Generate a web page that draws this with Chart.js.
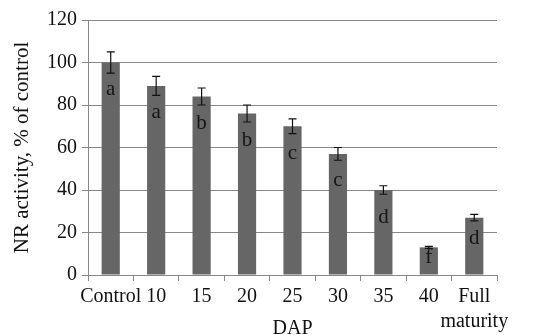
<!DOCTYPE html>
<html>
<head>
<meta charset="utf-8">
<script src="https://cdn.jsdelivr.net/npm/chart.js@4"></script>
<style>
  html, body { margin: 0; padding: 0; background: #fff; }
  #wrap { width: 537px; height: 335px; }
</style>
</head>
<body>
<div id="wrap"><canvas id="chart" width="537" height="335"></canvas></div>
<script>
/* ── Data ───────────────────────────────────────────── */
const categories = ['Control', '10', '15', '20', '25', '30', '35', '40', ['Full', 'maturity']];
const activity   = [100, 89, 84, 76, 70, 57, 40, 13, 27];
const errors     = [5, 4.5, 4, 4, 3.5, 3, 2, 0.5, 1.5];
const groups     = ['a', 'a', 'b', 'b', 'c', 'c', 'd', 'f', 'd'];
const yTicks     = [0, 20, 40, 60, 80, 100, 120];

const FONT = 'Liberation Serif';

/* ── Error bars + group letters ─────────────────────── */
const barExtras = {
  id: 'barExtras',
  afterDatasetsDraw(chart) {
    const ctx = chart.ctx;
    const y = chart.scales.y;
    const meta = chart.getDatasetMeta(0);
    ctx.save();
    meta.data.forEach((bar, i) => {
      const v = activity[i], e = errors[i];
      const yt = y.getPixelForValue(v + e);
      const yb = y.getPixelForValue(v - e);
      ctx.strokeStyle = '#111';
      ctx.lineWidth = 1.2;
      ctx.beginPath();
      ctx.moveTo(bar.x, yt); ctx.lineTo(bar.x, yb);
      ctx.moveTo(bar.x - 4, yt); ctx.lineTo(bar.x + 4, yt);
      ctx.moveTo(bar.x - 4, yb); ctx.lineTo(bar.x + 4, yb);
      ctx.stroke();
      // letter inside the bar
      const off = Math.min(27, (bar.base - bar.y) * 0.36);
      ctx.fillStyle = '#151515';
      ctx.font = '21px "' + FONT + '"';
      ctx.textAlign = 'center';
      ctx.textBaseline = 'middle';
      ctx.fillText(groups[i], bar.x, bar.y + off);
    });
    ctx.restore();
  }
};

/* ── Chart ──────────────────────────────────────────── */
new Chart(document.getElementById('chart'), {
  type: 'bar',
  data: {
    labels: categories,
    datasets: [{
      data: activity,
      backgroundColor: '#666666',
      categoryPercentage: 1,
      barPercentage: 0.4
    }]
  },
  options: {
    responsive: false,
    animation: false,
    layout: { padding: { top: 20, right: 40, left: 0, bottom: 0 } },
    plugins: { legend: { display: false }, tooltip: { enabled: false } },
    scales: {
      x: {
        grid: { display: true, drawOnChartArea: false, drawTicks: true, tickLength: 6, offset: true, color: '#888' },
        border: { color: '#888' },
        ticks: { color: '#111', padding: 3, maxRotation: 0, autoSkip: false,
                 font: { family: FONT, size: 20, lineHeight: 1.25 } },
        title: { display: true, text: 'DAP', color: '#111', padding: { top: 0, bottom: -5 },
                 font: { family: FONT, size: 20, lineHeight: 1.1 } },
        afterFit(s) { s.height = 60; }
      },
      y: {
        min: 0, max: 120,
        afterBuildTicks(s) { s.ticks = yTicks.map(v => ({ value: v })); },
        grid: { color: '#888', tickLength: 6 },
        border: { color: '#888' },
        ticks: { color: '#111', padding: 5, font: { family: FONT, size: 20 } },
        title: { display: true, text: 'NR activity, % of control', color: '#111',
                 padding: { top: 10, bottom: 0 }, font: { family: FONT, size: 21 } },
        afterFit(s) { s.width = 88; }
      }
    }
  },
  plugins: [barExtras]
});
</script>
</body>
</html>
